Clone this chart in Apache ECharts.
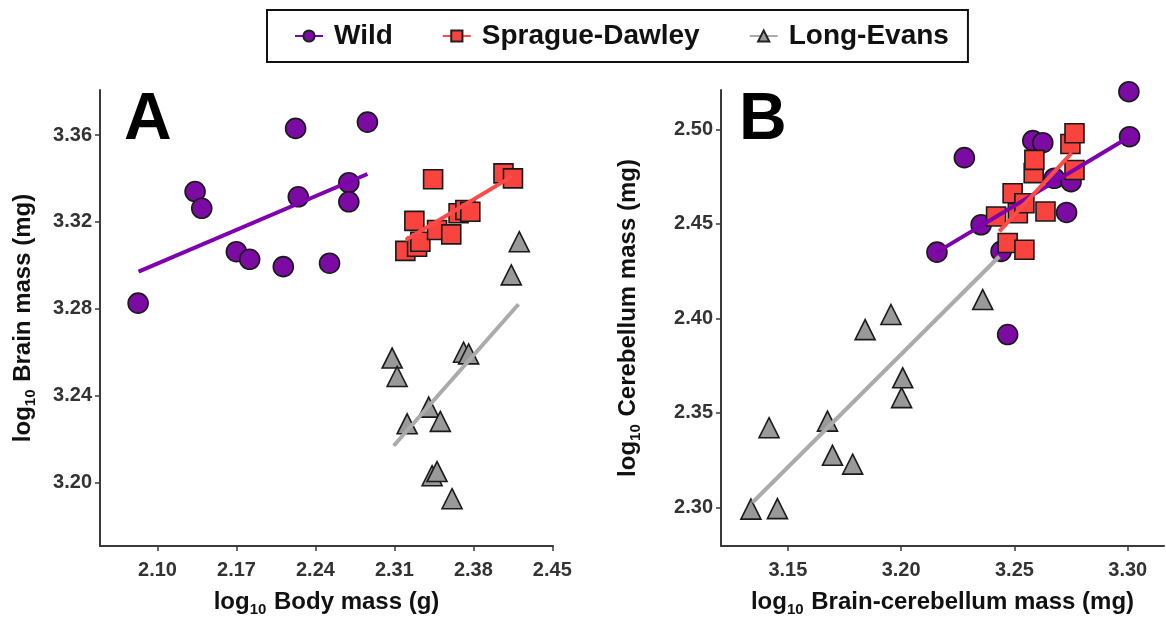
<!DOCTYPE html>
<html>
<head>
<meta charset="utf-8">
<script src="https://cdn.jsdelivr.net/npm/echarts@6/dist/echarts.min.js"></script>
<style>
html,body{margin:0;padding:0;background:#fff;}
#chart{width:1166px;height:619px;}
</style>
</head>
<body>
<div id="chart"></div>
<script>
// ---------- DATA ----------
const groups = ['Wild', 'Sprague-Dawley', 'Long-Evans'];

// Panel A: log10 body mass (g) vs log10 brain mass (mg)
const wildA = [[2.0828,3.2826],[2.1333,3.3340],[2.1392,3.3263],[2.1699,3.3063],[2.1817,3.3028],
  [2.2115,3.2994],[2.2224,3.3631],[2.2248,3.3316],[2.2525,3.3010],[2.2696,3.3381],[2.2696,3.3293],[2.2861,3.3660]];
const sdA = [[2.3197,3.3067],[2.3277,3.3205],[2.3301,3.3086],[2.3330,3.3109],[2.3443,3.3397],[2.3478,3.3163],
  [2.3604,3.3143],[2.3669,3.3240],[2.3729,3.3255],[2.3773,3.3247],[2.4067,3.3424],[2.4151,3.3401]];
const leA = [[2.3080,3.2573],[2.3124,3.2488],[2.3213,3.2270],[2.3404,3.2347],[2.3434,3.2031],[2.3478,3.2050],
  [2.3507,3.2281],[2.3611,3.1925],[2.3713,3.2600],[2.3758,3.2592],[2.4136,3.2956],[2.4207,3.3109]];
const wildFitA = [[2.0832,3.2971],[2.2861,3.3421]];
const sdFitA = [[2.3200,3.3117],[2.4140,3.3409]];
const leFitA = [[2.3094,3.2169],[2.4200,3.2821]];

// Panel B: log10 brain-cerebellum mass (mg) vs log10 cerebellum mass (mg)
const wildB = [[3.2158,2.4350],[3.2279,2.4850],[3.2353,2.4495],[3.2441,2.4354],[3.2470,2.3914],[3.2581,2.4940],
  [3.2625,2.4929],[3.2676,2.4741],[3.2730,2.4560],[3.2750,2.4723],[3.3005,2.5199],[3.3008,2.4961]];
const sdB = [[3.2419,2.4539],[3.2470,2.4398],[3.2492,2.4662],[3.2515,2.4556],[3.2544,2.4609],[3.2544,2.4363],
  [3.2585,2.4768],[3.2588,2.4838],[3.2637,2.4565],[3.2747,2.4922],[3.2765,2.4979],[3.2765,2.4785]];
const leB = [[3.1337,2.2990],[3.1417,2.3421],[3.1454,2.2993],[3.1675,2.3456],[3.1697,2.3275],[3.1786,2.3228],
  [3.1841,2.3940],[3.1955,2.4020],[3.2002,2.3580],[3.2007,2.3685],[3.2360,2.4099]];
const wildFitB = [[3.2158,2.4350],[3.3008,2.4961]];
const sdFitB = [[3.2433,2.4460],[3.2753,2.4875]];
const leFitB = [[3.1344,2.3025],[3.2433,2.4327]];

// Tick labels
const ticksAx = [2.10, 2.17, 2.24, 2.31, 2.38, 2.45];
const ticksAy = [3.20, 3.24, 3.28, 3.32, 3.36];
const ticksBx = [3.15, 3.20, 3.25, 3.30];
const ticksBy = [2.30, 2.35, 2.40, 2.45, 2.50];

// ---------- STYLE ----------
const colors = { 'Wild': '#7B0BA3', 'Sprague-Dawley': '#F8433E', 'Long-Evans': '#999999' };
const lineColors = { 'Wild': '#7E00AE', 'Sprague-Dawley': '#FF4B47', 'Long-Evans': '#ABABAB' };
const symbols = { 'Wild': 'circle', 'Sprague-Dawley': 'rect', 'Long-Evans': 'triangle' };
const symSize = { 'Wild': 20, 'Sprague-Dawley': 19, 'Long-Evans': 20 };
const axisColor = '#3a3a3a';
const font = 'Liberation Sans, Arial, Helvetica, sans-serif';

function axisCommon(min, max, ticks, name, gap, isY) {
  return {
    type: 'value', min: min, max: max, scale: true,
    name: name, nameLocation: 'middle', nameGap: gap,
    nameTextStyle: {
      fontFamily: font, color: '#111',
      rich: {
        a: { fontSize: 24, fontWeight: 'bold', fontFamily: font, color: '#111', lineHeight: 28 },
        s: { fontSize: 15, fontWeight: 'bold', fontFamily: font, color: '#111', verticalAlign: 'top', padding: [14, 1, 0, 0], lineHeight: 15 }
      }
    },
    axisLine: { show: true, onZero: false, lineStyle: { color: axisColor, width: 2 } },
    axisTick: { show: true, length: 5, inside: false, customValues: ticks, lineStyle: { color: axisColor, width: 1.5 } },
    axisLabel: {
      show: true, customValues: ticks, margin: isY ? 8 : 14,
      fontSize: 20, fontWeight: 'bold', fontFamily: font, color: '#333',
      formatter: function (v) { return Number(v).toFixed(2); }
    },
    splitLine: { show: false }
  };
}

const grids = [
  { left: 100, top: 90, width: 453, height: 456, containLabel: false, outerBoundsMode: 'none' },
  { left: 721, top: 90, width: 443, height: 456, containLabel: false, outerBoundsMode: 'none' }
];

const xAxes = [
  Object.assign(axisCommon(2.049, 2.4506, ticksAx, '{a|log}{s|10}{a| Body mass (g)}', 42, false), { gridIndex: 0 }),
  Object.assign(axisCommon(3.1205, 3.316, ticksBx, '{a|log}{s|10}{a| Brain-cerebellum mass (mg)}', 42, false), { gridIndex: 1 })
];
const yAxes = [
  Object.assign(axisCommon(3.1707, 3.3808, ticksAy, '{a|log}{s|10}{a| Brain mass (mg)}', 63, true), { gridIndex: 0 }),
  Object.assign(axisCommon(2.2795, 2.5208, ticksBy, '{a|log}{s|10}{a| Cerebellum mass (mg)}', 79, true), { gridIndex: 1 })
];

function fitSeries(name, data, idx) {
  return {
    type: 'line', name: name, data: data, xAxisIndex: idx, yAxisIndex: idx,
    symbol: symbols[name], symbolSize: 12, showSymbol: false, z: 5,
    lineStyle: { color: lineColors[name], width: 4 },
    itemStyle: { color: colors[name], borderColor: '#222', borderWidth: 1.2 },
    emphasis: { disabled: true }, silent: true, animation: false
  };
}
function pointSeries(name, data, idx) {
  return {
    type: 'scatter', name: name, data: data, xAxisIndex: idx, yAxisIndex: idx,
    symbol: symbols[name], symbolSize: symSize[name], z: 2,
    itemStyle: { color: colors[name], borderColor: '#1a1a1a', borderWidth: 1.6, opacity: 1 },
    emphasis: { disabled: true }, animation: false
  };
}

const series = [
  fitSeries('Wild', wildFitA, 0), fitSeries('Sprague-Dawley', sdFitA, 0), fitSeries('Long-Evans', leFitA, 0),
  fitSeries('Wild', wildFitB, 1), fitSeries('Sprague-Dawley', sdFitB, 1), fitSeries('Long-Evans', leFitB, 1),
  pointSeries('Wild', wildA, 0), pointSeries('Sprague-Dawley', sdA, 0), pointSeries('Long-Evans', leA, 0),
  pointSeries('Wild', wildB, 1), pointSeries('Sprague-Dawley', sdB, 1), pointSeries('Long-Evans', leB, 1)
];

const chart = echarts.init(document.getElementById('chart'), null, { renderer: 'canvas' });
chart.setOption({
  backgroundColor: '#ffffff',
  animation: false,
  legend: {
    data: groups, left: 267, top: 10,
    padding: [12, 19, 12, 27], itemGap: 49, itemWidth: 28, itemHeight: 14,
    borderColor: '#111', borderWidth: 2, borderRadius: 0,
    textStyle: { fontSize: 28, fontWeight: 'bold', fontFamily: font, color: '#111', padding: [0, 0, 0, 6] }
  },
  grid: grids,
  xAxis: xAxes,
  yAxis: yAxes,
  series: series,
  graphic: [
    { type: 'text', left: 124, top: 88, style: { text: 'A', fontSize: 66, fontWeight: 'bold', fontFamily: font, fill: '#000' } },
    { type: 'text', left: 739, top: 88, style: { text: 'B', fontSize: 66, fontWeight: 'bold', fontFamily: font, fill: '#000' } }
  ]
});
</script>
</body>
</html>
